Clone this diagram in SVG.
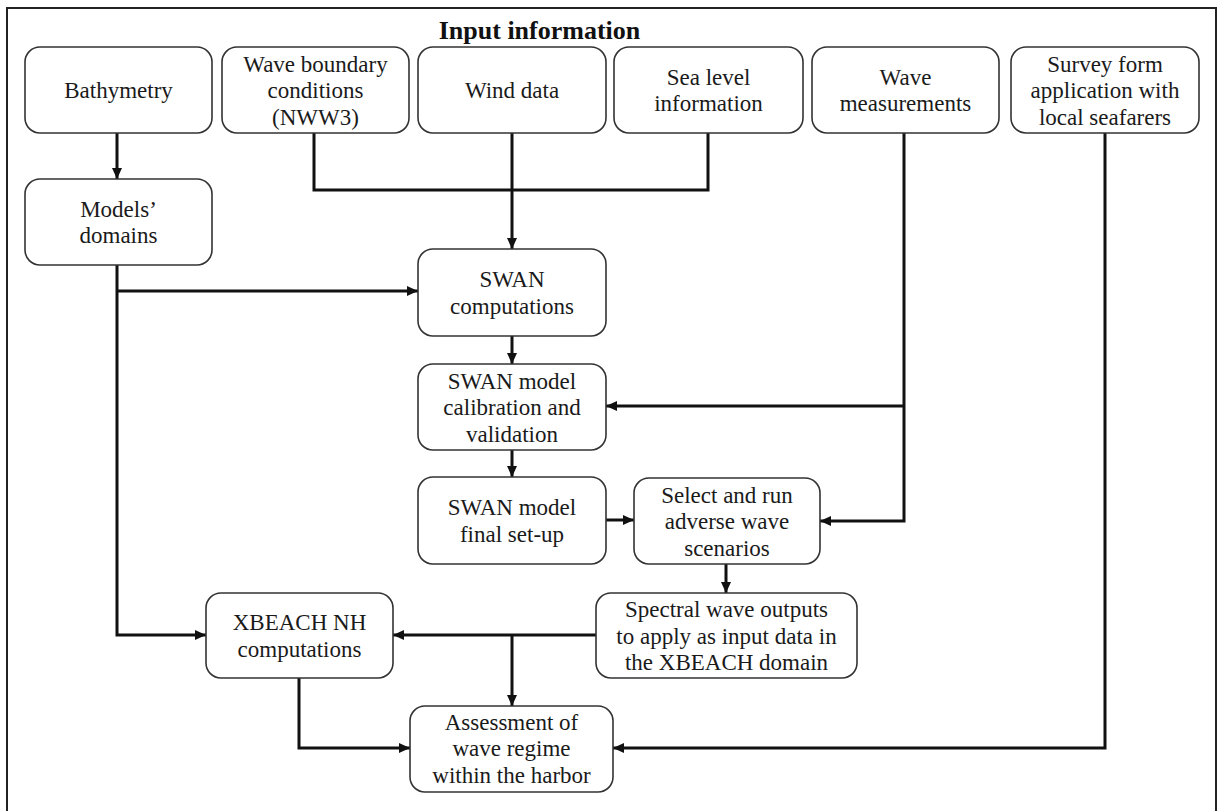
<svg xmlns="http://www.w3.org/2000/svg" width="1217" height="811" viewBox="0 0 1217 811">
<style>
.box{fill:#fff;stroke:#333;stroke-width:1.6}
.t{font-family:'Liberation Serif','Times New Roman',serif;font-size:23px;fill:#1a1a1a;text-anchor:middle}
.title{font-family:'Liberation Serif','Times New Roman',serif;font-size:26px;font-weight:bold;fill:#111;text-anchor:middle}
.c{fill:none;stroke:#111;stroke-width:3}
.frame{fill:none;stroke:#222;stroke-width:2}
</style>
<defs>
<marker id="ah" markerUnits="userSpaceOnUse" markerWidth="12" markerHeight="11" refX="11" refY="5" orient="auto">
<path d="M0,0 L11,5 L0,10 z" fill="#111"/>
</marker>
</defs>
<rect width="1217" height="811" fill="#fff"/>
<path class="frame" d="M7,815 V8 H1216 V815"/>
<text class="title" x="539.5" y="39">Input information</text>

<g id="connectors">
<path class="c" d="M117,133 V179" marker-end="url(#ah)"/>
<path class="c" d="M314,133 V190 H708 V133"/>
<path class="c" d="M512,133 V249" marker-end="url(#ah)"/>
<path class="c" d="M117,265 V635 H206" marker-end="url(#ah)"/>
<path class="c" d="M117,291 H418" marker-end="url(#ah)"/>
<path class="c" d="M512,336 V364" marker-end="url(#ah)"/>
<path class="c" d="M904,133 V521 H820" marker-end="url(#ah)"/>
<path class="c" d="M904,406 H606" marker-end="url(#ah)"/>
<path class="c" d="M512,450 V477" marker-end="url(#ah)"/>
<path class="c" d="M606,520 H634" marker-end="url(#ah)"/>
<path class="c" d="M726,564 V593" marker-end="url(#ah)"/>
<path class="c" d="M596,635 H393" marker-end="url(#ah)"/>
<path class="c" d="M512,635 V706" marker-end="url(#ah)"/>
<path class="c" d="M299,678 V748 H410" marker-end="url(#ah)"/>
<path class="c" d="M1105,133 V748 H613" marker-end="url(#ah)"/>
</g>

<g id="bathymetry">
<rect class="box" x="25" y="47" width="187" height="86" rx="15"/>
<text class="t" x="118.5" y="98">Bathymetry</text>
</g>
<g id="wave-boundary">
<rect class="box" x="222" y="47" width="187" height="86" rx="15"/>
<text class="t" x="315.5" y="71.5">Wave boundary</text>
<text class="t" x="315.5" y="98">conditions</text>
<text class="t" x="315.5" y="124.5">(NWW3)</text>
</g>
<g id="wind-data">
<rect class="box" x="418" y="47" width="188" height="86" rx="15"/>
<text class="t" x="512" y="98">Wind data</text>
</g>
<g id="sea-level">
<rect class="box" x="614" y="47" width="189" height="86" rx="15"/>
<text class="t" x="708.5" y="84.5">Sea level</text>
<text class="t" x="708.5" y="111">information</text>
</g>
<g id="wave-measurements">
<rect class="box" x="812" y="47" width="187" height="86" rx="15"/>
<text class="t" x="905.5" y="84.5">Wave</text>
<text class="t" x="905.5" y="111">measurements</text>
</g>
<g id="survey">
<rect class="box" x="1011" y="47" width="188" height="86" rx="15"/>
<text class="t" x="1105" y="71.5">Survey form</text>
<text class="t" x="1105" y="98">application with</text>
<text class="t" x="1105" y="124.5">local seafarers</text>
</g>
<g id="models-domains">
<rect class="box" x="25" y="179" width="187" height="86" rx="15"/>
<text class="t" x="118.5" y="216.5">Models’</text>
<text class="t" x="118.5" y="243">domains</text>
</g>
<g id="swan-computations">
<rect class="box" x="418" y="249" width="188" height="87" rx="15"/>
<text class="t" x="512" y="287">SWAN</text>
<text class="t" x="512" y="313.5">computations</text>
</g>
<g id="swan-calibration">
<rect class="box" x="418" y="364" width="188" height="86" rx="15"/>
<text class="t" x="512" y="388.5">SWAN model</text>
<text class="t" x="512" y="415">calibration and</text>
<text class="t" x="512" y="441.5">validation</text>
</g>
<g id="swan-final">
<rect class="box" x="418" y="477" width="188" height="87" rx="15"/>
<text class="t" x="512" y="515">SWAN model</text>
<text class="t" x="512" y="541.5">final set-up</text>
</g>
<g id="select-run">
<rect class="box" x="634" y="478" width="186" height="86" rx="15"/>
<text class="t" x="727" y="502.5">Select and run</text>
<text class="t" x="727" y="529">adverse wave</text>
<text class="t" x="727" y="555.5">scenarios</text>
</g>
<g id="spectral-outputs">
<rect class="box" x="596" y="593" width="261" height="85" rx="15"/>
<text class="t" x="726.5" y="617">Spectral wave outputs</text>
<text class="t" x="726.5" y="643.5">to apply as input data in</text>
<text class="t" x="726.5" y="670">the XBEACH domain</text>
</g>
<g id="xbeach">
<rect class="box" x="206" y="593" width="187" height="85" rx="15"/>
<text class="t" x="299.5" y="630">XBEACH NH</text>
<text class="t" x="299.5" y="656.5">computations</text>
</g>
<g id="assessment">
<rect class="box" x="410" y="706" width="203" height="86" rx="15"/>
<text class="t" x="511.5" y="729.5">Assessment of</text>
<text class="t" x="511.5" y="756">wave regime</text>
<text class="t" x="511.5" y="782.5">within the harbor</text>
</g>
</svg>
